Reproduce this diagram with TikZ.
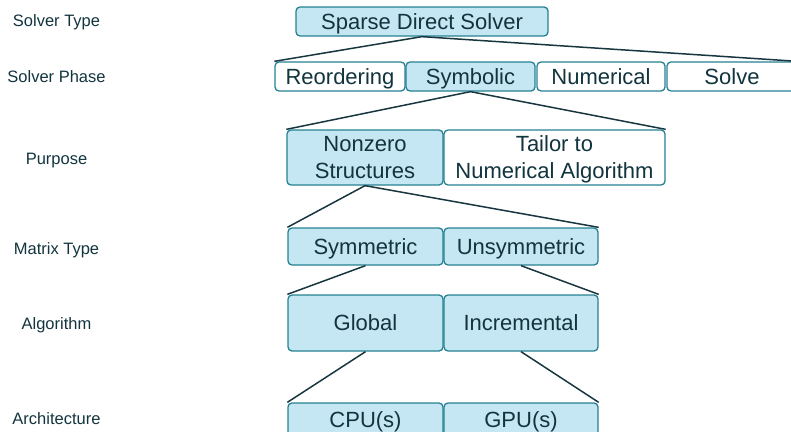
\documentclass[tikz,border=0pt]{standalone}
\usepackage{fontspec}
\setmainfont{Liberation Sans}
\usepackage{xcolor}
\definecolor{boxfill}{RGB}{197,230,243}
\definecolor{boxedge}{RGB}{38,130,146}
\definecolor{inktext}{RGB}{18,52,62}
\definecolor{linkline}{RGB}{24,54,64}

\begin{document}
\begin{tikzpicture}[x=1pt,y=-1pt,
  cell/.style={draw=boxedge, line width=1.3pt, rounded corners=4pt, inner sep=0pt, align=center,
    text=inktext, font=\fontsize{22}{27}\selectfont, text height=17pt, text depth=1.25pt},
  twoline/.style={text height=44pt},
  fillcell/.style={cell, fill=boxfill},
  opencell/.style={cell, fill=white},
  level/.style={anchor=base, text=inktext, font=\fontsize{16.5}{20}\selectfont},
  link/.style={draw=linkline, line width=1.5pt}]
\useasboundingbox (0,0) rectangle (791,431);

% left column
\node[level] (lt) at (56.5,26.4) {Solver Type};
\node[level] (lp) at (56.5,82.4) {Solver Phase};
\node[level] (lu) at (56.5,164.4) {Purpose};
\node[level] (lm) at (56.5,254.4) {Matrix Type};
\node[level] (la) at (56.5,329.4) {Algorithm};
\node[level] (lh) at (56.5,424.4) {Architecture};

% tree
\node[fillcell, minimum width=252pt, minimum height=29pt] (sds) at (422,21.5) {Sparse Direct Solver};

\node[opencell, minimum width=130pt, minimum height=29pt] (reo) at (340,76.5) {Reordering};
\node[fillcell, minimum width=129pt, minimum height=29pt] (sym) at (470.5,76.5) {Symbolic};
\node[opencell, minimum width=128pt, minimum height=29pt] (num) at (601,76.5) {Numerical};
\node[opencell, minimum width=130pt, minimum height=29pt] (sol) at (732,76.5) {Solve};

\node[fillcell, twoline, minimum width=156pt, minimum height=55pt] (nzs) at (365,157.5) {Nonzero\\Structures};
\node[opencell, twoline, minimum width=221pt, minimum height=55pt] (tna) at (554.5,157.5) {Tailor to\\Numerical Algorithm};

\node[fillcell, minimum width=155pt, minimum height=37pt] (sm) at (365.5,246.5) {Symmetric};
\node[fillcell, minimum width=154pt, minimum height=37pt] (usm) at (521,246.5) {Unsymmetric};

\node[fillcell, minimum width=155pt, minimum height=56pt] (glb) at (365.5,323) {Global};
\node[fillcell, minimum width=154pt, minimum height=56pt] (inc) at (521,323) {Incremental};

\node[fillcell, minimum width=155pt, minimum height=34pt] (cpu) at (365.5,420) {CPU(s)};
\node[fillcell, minimum width=154pt, minimum height=34pt] (gpu) at (521,420) {GPU(s)};

\draw[link] (reo.north west) -- (sds.south) -- (sol.north east);
\draw[link] (nzs.north west) -- (sym.south) -- (tna.north east);
\draw[link] (sm.north west) -- (nzs.south) -- (usm.north east);
\draw[link] (sm.south) -- (glb.north west);
\draw[link] (usm.south) -- (inc.north east);
\draw[link] (glb.south) -- (cpu.north west);
\draw[link] (inc.south) -- (gpu.north east);
\end{tikzpicture}
\end{document}
